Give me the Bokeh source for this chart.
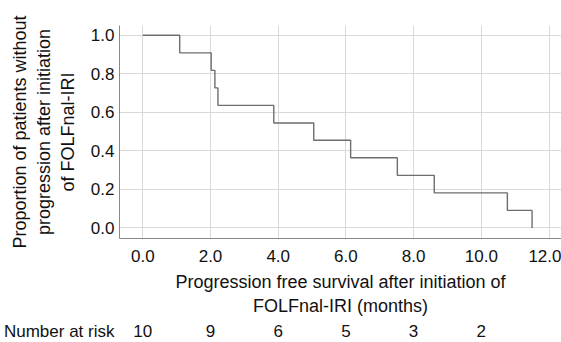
from bokeh.plotting import figure
from bokeh.layouts import column
from bokeh.models import FixedTicker, PrintfTickFormatter, Range1d
from bokeh.core.properties import value
from bokeh.embed import file_html
from bokeh.resources import INLINE

# Kaplan-Meier step data (months, proportion)
times = [0.0, 1.09, 2.02, 2.13, 2.22, 3.87, 5.05, 6.14, 7.52, 8.61, 10.77, 11.5]
surv = [1.0, 0.909, 0.818, 0.727, 0.636, 0.545, 0.455, 0.364, 0.273, 0.182, 0.091, 0.0]

x_ticks = [0, 2, 4, 6, 8, 10, 12]
y_ticks = [0.0, 0.2, 0.4, 0.6, 0.8, 1.0]

risk_times = [0, 2, 4, 6, 8, 10]
risk_counts = [10, 9, 6, 5, 3, 2]
risk_label = "Number at risk"

y_title = "Proportion of patients without\nprogression after initiation\nof FOLFnal-IRI"
x_title = "Progression free survival after initiation of\nFOLFnal-IRI (months)"

FONT = "Liberation Sans"
FS_TICK = "17px"
FS_TITLE = "18px"
TXT = "#111111"

W = 561
H1, H2 = 318, 24
FRAME_L, FRAME_T, FRAME_B = 119, 25, 240
X0_PX, PPU = 142.3, 33.85  # pixel of x=0 and pixels per month

x_start = (FRAME_L - X0_PX) / PPU
x_end = (W - X0_PX) / PPU

p = figure(width=W, height=H1, output_backend="svg", toolbar_location=None,
           x_range=Range1d(x_start, x_end), y_range=Range1d(-0.055, 1.051),
           min_border_left=FRAME_L, min_border_top=FRAME_T,
           min_border_bottom=H1 - FRAME_B, min_border_right=0)
p.outline_line_color = None

for ax in (p.xaxis[0], p.yaxis[0]):
    ax.major_tick_line_color = None
    ax.minor_tick_line_color = None
    ax.major_tick_out = 0
    ax.major_tick_in = 0
    ax.minor_tick_out = 0
    ax.axis_line_color = "#8a8a8a"
    ax.axis_line_width = 1
    ax.major_label_text_font = FONT
    ax.major_label_text_font_size = FS_TICK
    ax.major_label_text_color = TXT
    ax.formatter = PrintfTickFormatter(format="%.1f")
    ax.axis_label_text_font = FONT
    ax.axis_label_text_font_size = FS_TITLE
    ax.axis_label_text_font_style = "normal"
    ax.axis_label_text_color = TXT

p.xaxis[0].ticker = FixedTicker(ticks=x_ticks)
p.yaxis[0].ticker = FixedTicker(ticks=y_ticks)
p.xaxis[0].major_label_standoff = 11
p.yaxis[0].major_label_standoff = 5
p.xaxis[0].axis_label = x_title
p.yaxis[0].axis_label = y_title
p.xaxis[0].axis_label_standoff = 7
p.yaxis[0].axis_label_standoff = 10

p.xgrid.grid_line_color = "#d9d9d9"
p.ygrid.grid_line_color = "#d9d9d9"
p.xgrid.ticker = FixedTicker(ticks=x_ticks)
p.ygrid.ticker = FixedTicker(ticks=y_ticks)

p.step(times, surv, mode="after", line_color="#6e6e6e", line_width=1.4)

# Number-at-risk row: shares the x scale; its left axis carries the row caption
p2 = figure(width=W, height=H2, output_backend="svg", toolbar_location=None,
            x_axis_type=None, x_range=p.x_range, y_range=Range1d(0.08, 2.08),
            min_border_left=FRAME_L, min_border_right=0, min_border_top=0, min_border_bottom=0)
p2.grid.visible = False
p2.outline_line_color = None
ya = p2.yaxis[0]
ya.ticker = FixedTicker(ticks=[1])
ya.major_label_overrides = {1: risk_label}
ya.axis_line_color = None
ya.major_tick_line_color = None
ya.minor_tick_line_color = None
ya.major_tick_out = 0
ya.major_tick_in = 0
ya.minor_tick_out = 0
ya.major_label_standoff = 5
ya.major_label_text_font = FONT
ya.major_label_text_font_size = FS_TICK
ya.major_label_text_color = TXT
p2.text(x=risk_times, y=[1] * len(risk_times), text=[str(c) for c in risk_counts],
        text_align="center", text_baseline="middle",
        text_font=value(FONT), text_font_size=value(FS_TICK), text_color=TXT)

layout = column(p, p2, spacing=0)
open("out.html", "w").write(file_html(layout, INLINE))
